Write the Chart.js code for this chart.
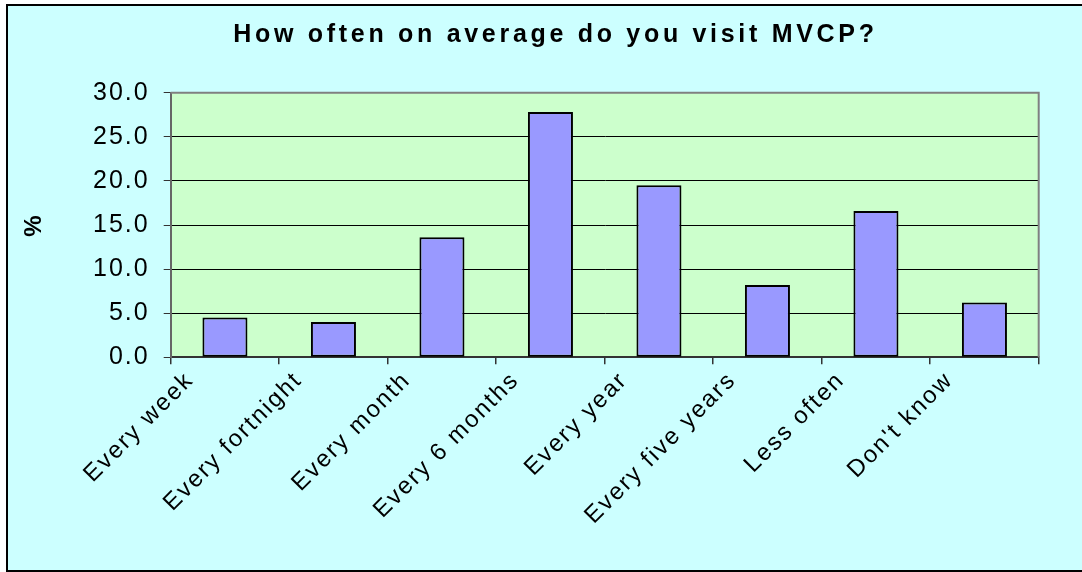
<!DOCTYPE html>
<html>
<head>
<meta charset="utf-8">
<script src="https://cdn.jsdelivr.net/npm/chart.js@4/dist/chart.umd.min.js"></script>
<style>
  html, body { margin: 0; padding: 0; background: #ffffff; }
  #c { display: block; }
</style>
</head>
<body>
<canvas id="c" width="1082" height="572"></canvas>
<script>
const categories = ['Every week', 'Every fortnight', 'Every month', 'Every 6 months', 'Every year', 'Every five years', 'Less often', "Don't know"];
const percentValues = [4.5, 4.0, 13.6, 27.8, 19.5, 8.2, 16.6, 6.2];
const yTickValues = [0, 5, 10, 15, 20, 25, 30];
const chartTitle = 'How often on average do you visit MVCP?';
const yAxisTitle = '%';

const FONT = "'Liberation Sans', Arial, sans-serif";

const framePlugin = {
  id: 'frame',
  afterInit(chart) {
    const tb = chart.titleBlock;
    if (tb) {
      const orig = tb.draw.bind(tb);
      tb.draw = function (area) {
        const ctx = this.ctx;
        const prev = ctx.letterSpacing;
        const l = this.left, r = this.right;
        this.left = 29; this.right = 1082;
        ctx.letterSpacing = '3.7px';
        orig(area);
        ctx.letterSpacing = prev;
        this.left = l; this.right = r;
      };
    }
  },
  beforeUpdate(chart) { chart.ctx.letterSpacing = '2px'; },
  beforeDraw(chart) {
    const ctx = chart.ctx;
    ctx.save();
    ctx.letterSpacing = '0px';
    ctx.fillStyle = '#ffffff';
    ctx.fillRect(0, 0, chart.width, chart.height);
    ctx.fillStyle = '#CCFFFF';
    ctx.fillRect(7, 5, 1100, 566);
    ctx.strokeStyle = '#000000';
    ctx.lineWidth = 2;
    ctx.strokeRect(7, 5, 1100, 566);
    const a = chart.chartArea;
    ctx.fillStyle = '#CCFFCC';
    ctx.fillRect(a.left, a.top, a.right - a.left, a.bottom - a.top);
    ctx.restore();
    ctx.letterSpacing = '2px';
  },
  afterDatasetsDraw(chart) {
    const ctx = chart.ctx;
    const a = chart.chartArea;
    ctx.save();
    ctx.strokeStyle = '#808080';
    ctx.lineWidth = 2;
    ctx.beginPath();
    ctx.moveTo(a.left, a.top);
    ctx.lineTo(a.right, a.top);
    ctx.lineTo(a.right, a.bottom);
    ctx.stroke();
    ctx.restore();
  }
};

new Chart(document.getElementById('c'), {
  type: 'bar',
  data: {
    labels: categories,
    datasets: [{
      data: percentValues,
      backgroundColor: '#9999FF',
      borderColor: '#000000',
      borderWidth: 2,
      borderSkipped: false,
      barPercentage: 0.415,
      categoryPercentage: 1.0
    }]
  },
  options: {
    responsive: false,
    animation: false,
    devicePixelRatio: 1,
    layout: { padding: { left: 0, right: 43.3, top: 0, bottom: 0 } },
    plugins: {
      legend: { display: false },
      tooltip: { enabled: false },
      title: {
        display: true,
        text: chartTitle,
        color: '#000000',
        font: { family: FONT, size: 25, weight: 'bold', lineHeight: 1.2 },
        padding: { top: 19.7, bottom: 43 }
      }
    },
    scales: {
      x: {
        grid: { drawOnChartArea: false, offset: true, tickLength: 7, color: '#333333', lineWidth: 1.5 },
        border: { color: '#333333', width: 2 },
        ticks: {
          autoSkip: false,
          minRotation: 45,
          maxRotation: 45,
          labelOffset: -35,
          padding: 2,
          color: '#000000',
          font: { family: FONT, size: 24 }
        },
        afterFit(scale) { scale.height = 214.7; }
      },
      y: {
        min: 0,
        max: 30,
        afterBuildTicks(scale) { scale.ticks = yTickValues.map(v => ({ value: v })); },
        grid: {
          color: ctx => (ctx.tick && ctx.tick.value === 30) ? 'rgba(0,0,0,0)' : '#000000',
          tickColor: '#333333',
          lineWidth: 1,
          tickLength: 7
        },
        border: { color: '#666666', width: 2 },
        ticks: {
          padding: 14,
          color: '#000000',
          font: { family: FONT, size: 25 },
          callback: v => Number(v).toFixed(1)
        },
        title: {
          display: true,
          text: yAxisTitle,
          color: '#000000',
          font: { family: FONT, size: 24, weight: 'bold', lineHeight: 1.2 },
          padding: { top: 20, bottom: 0 }
        },
        afterFit(scale) { scale.width = 170.7; }
      }
    }
  },
  plugins: [framePlugin]
});
</script>
</body>
</html>
